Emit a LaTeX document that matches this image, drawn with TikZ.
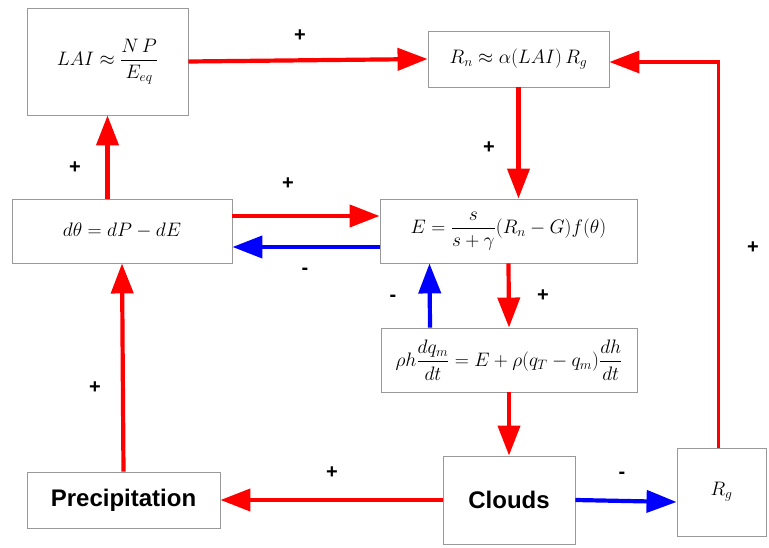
\documentclass[tikz,border=0pt]{standalone}
\usepackage{fix-cm}
\usepackage{amsmath}
\usepackage{fontspec}
\setsansfont{Liberation Sans}
\usetikzlibrary{arrows.meta}
\begin{document}
\begin{tikzpicture}[x=1pt,y=-1pt,
  box/.style={draw=gray!80, line width=0.9pt, inner sep=0pt, font=\fontsize{19.5}{23}\selectfont},
  wordbox/.style={box, font=\fontsize{24}{28}\selectfont\sffamily\bfseries},
  redarr/.style={draw=red, line width=4.2pt, -{Triangle[length=30pt,width=22pt]}},
  bluearr/.style={draw=blue, line width=4.2pt, -{Triangle[length=30pt,width=22pt]}},
  sign/.style={font=\fontsize{20}{22}\selectfont\sffamily\bfseries, inner sep=0pt}]
\useasboundingbox (0,0) rectangle (769,548);
\node[box, minimum width=161pt, minimum height=107pt] (lai) at (107.5,61.5) {$LAI \approx \dfrac{N\,P}{E_{eq}}$};
\node[box, minimum width=181pt, minimum height=56pt] (rn) at (518.5,59) {$R_n \approx \alpha(LAI)\,R_g$};
\node[box, minimum width=220pt, minimum height=64pt] (dth) at (122,231) {$d\theta = dP - dE$};
\node[box, minimum width=257pt, minimum height=64pt] (E) at (508.5,231) {$E = \dfrac{s}{s+\gamma}(R_n - G)f(\theta)$};
\node[box, minimum width=256pt, minimum height=64pt] (rho) at (509,360) {$\rho h\dfrac{dq_m}{dt} = E + \rho(q_T - q_m)\dfrac{dh}{dt}$};
\node[wordbox, minimum width=132pt, minimum height=88pt] (clouds) at (509,500) {Clouds};
\node[box, minimum width=89pt, minimum height=88pt] (rg) at (721.5,492) {$R_g$};
\node[wordbox, minimum width=193pt, minimum height=56pt] (precip) at (123.5,500) {Precipitation};

\draw[redarr] (lai.east) -- (rn.west);
\draw[redarr] (rn.south) -- (rn.south |- E.north);
\draw[redarr, line width=3.4pt] ([xshift=-3pt]rg.north) |- ([yshift=-3pt]rn.east);
\draw[redarr] (lai.south |- dth.north) -- (lai.south);
\draw[redarr] ([yshift=15pt]dth.east) -- ([yshift=15pt]E.west);
\draw[bluearr] ([yshift=-16pt]E.west) -- ([yshift=-16pt]dth.east);
\draw[bluearr] ([xshift=-79pt]rho.north) -- ([xshift=-79pt]E.south);
\draw[redarr] (E.south) -- (rho.north);
\draw[redarr] (rho.south) -- (clouds.north);
\draw[redarr] (clouds.west) -- (precip.east);
\draw[bluearr] (clouds.east) -- ([yshift=-10pt]rg.west);
\draw[redarr] (precip.north) -- (dth.south);

\node[sign] (s1) at (300,36) {+};
\node[sign] (s2) at (489,148) {+};
\node[sign] (s3) at (753,248) {+};
\node[sign] (s4) at (75,168) {+};
\node[sign] (s5) at (288,184) {+};
\node[sign] (s6) at (305,271) {-};
\node[sign] (s7) at (393,298) {-};
\node[sign] (s8) at (543,296) {+};
\node[sign] (s9) at (95,388) {+};
\node[sign] (s10) at (332,473) {+};
\node[sign] (s11) at (622,475) {-};
\end{tikzpicture}
\end{document}
